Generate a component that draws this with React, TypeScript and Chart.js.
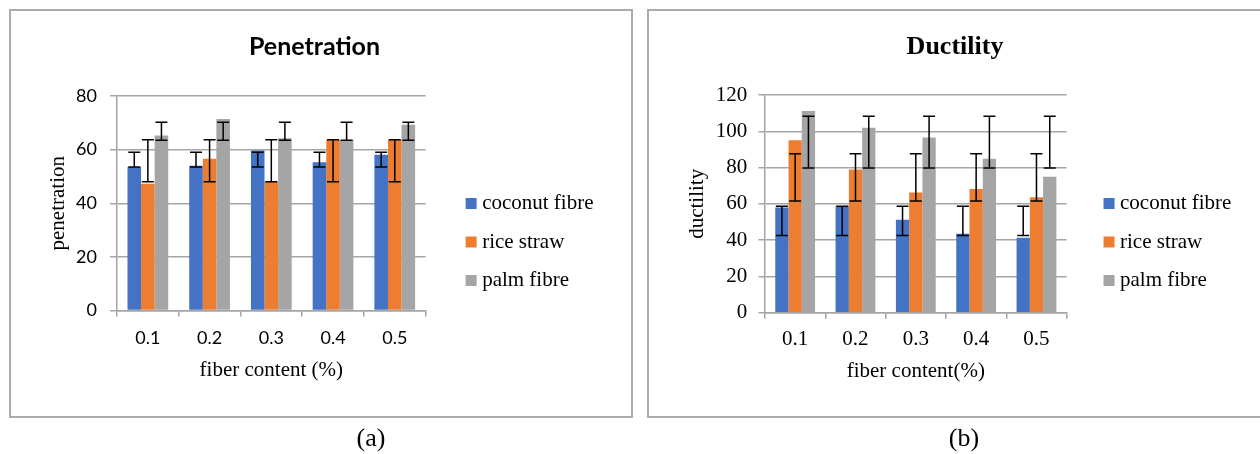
import React, { useEffect, useRef } from 'react';
import { Chart, registerables } from 'chart.js';

Chart.register(...registerables);

// ---------- data ----------
const categories = ['0.1', '0.2', '0.3', '0.4', '0.5'];
const seriesNames = ['coconut fibre', 'rice straw', 'palm fibre'];
const seriesColors = ['#4472C4', '#ED7D31', '#A5A5A5'];

// Penetration
const penCoconut = [53.5, 54.0, 59.7, 55.3, 58.1];
const penRice = [47.3, 56.6, 48.0, 63.6, 63.6];
const penPalm = [65.3, 71.4, 64.2, 63.6, 69.3];
const penCoconutLow = [53.5, 53.5, 53.5, 53.5, 53.5];
const penCoconutHigh = [59.0, 59.0, 59.0, 59.0, 59.0];
const penRiceLow = [48.0, 48.0, 48.0, 48.0, 48.0];
const penRiceHigh = [63.7, 63.7, 63.7, 63.7, 63.7];
const penPalmLow = [63.5, 63.5, 63.5, 63.5, 63.5];
const penPalmHigh = [70.2, 70.2, 70.2, 70.2, 70.2];
const penTicks = [0, 20, 40, 60, 80];

// Ductility
const ducCoconut = [58.0, 58.7, 51.2, 43.5, 41.3];
const ducRice = [95.1, 79.0, 66.2, 68.2, 63.7];
const ducPalm = [111.2, 101.9, 96.6, 84.9, 75.0];
const ducCoconutLow = [42.6, 42.6, 42.6, 42.6, 42.6];
const ducCoconutHigh = [58.7, 58.7, 58.7, 58.7, 58.7];
const ducRiceLow = [61.6, 61.6, 61.6, 61.6, 61.6];
const ducRiceHigh = [87.6, 87.6, 87.6, 87.6, 87.6];
const ducPalmLow = [79.8, 79.8, 79.8, 79.8, 79.8];
const ducPalmHigh = [108.3, 108.3, 108.3, 108.3, 108.3];
const ducTicks = [0, 20, 40, 60, 80, 100, 120];

// ---------- styling ----------
const GRID = '#a5a5a5';
const SERIF = '"Liberation Serif", "Times New Roman", serif';
const SANS = 'Lato, Carlito, Calibri, sans-serif';

const errorBarPlugin = {
  id: 'errorBars',
  afterDatasetsDraw(chart: any) {
    const ctx = chart.ctx;
    const yScale = chart.scales.y;
    ctx.save();
    ctx.strokeStyle = '#000';
    ctx.lineWidth = 1.5;
    chart.data.datasets.forEach((ds: any, i: number) => {
      if (!ds.errLow) return;
      const meta = chart.getDatasetMeta(i);
      meta.data.forEach((bar: any, j: number) => {
        const x = bar.x;
        const y1 = yScale.getPixelForValue(ds.errLow[j]);
        const y2 = yScale.getPixelForValue(ds.errHigh[j]);
        ctx.beginPath();
        ctx.moveTo(x, y1);
        ctx.lineTo(x, y2);
        ctx.moveTo(x - 6, y1);
        ctx.lineTo(x + 6, y1);
        ctx.moveTo(x - 6, y2);
        ctx.lineTo(x + 6, y2);
        ctx.stroke();
      });
    });
    ctx.restore();
  },
};

function buildConfig(p: any) {
  return {
    type: 'bar',
    data: {
      labels: categories,
      datasets: p.values.map((vals: number[], i: number) => ({
        label: seriesNames[i],
        data: vals,
        backgroundColor: seriesColors[i],
        borderWidth: 0,
        barPercentage: 1,
        categoryPercentage: 0.66,
        errLow: p.lows[i],
        errHigh: p.highs[i],
      })),
    },
    options: {
      responsive: false,
      animation: false,
      devicePixelRatio: 1,
      events: [],
      layout: { padding: { left: p.padLeft, right: p.padRight, top: 0, bottom: 0 } },
      plugins: {
        tooltip: { enabled: false },
        title: {
          display: true,
          text: p.title,
          color: '#000',
          font: p.titleFont,
          padding: p.titlePad,
        },
        legend: {
          position: 'right',
          align: 'center',
          maxWidth: 400,
          labels: {
            usePointStyle: true,
            pointStyle: 'rect',
            boxWidth: 1,
            boxHeight: 11,
            padding: 17.5,
            color: '#000',
            font: { family: SERIF, size: 21 },
          },
        },
      },
      scales: {
        x: {
          ticks: { color: '#000', font: p.tickFont, padding: p.xTickPad },
          grid: {
            drawOnChartArea: false,
            drawTicks: true,
            tickLength: 6,
            color: GRID,
            lineWidth: 1.5,
            offset: true,
          },
          border: { display: true, color: GRID, width: 1.5 },
          title: {
            display: true,
            text: p.xTitle,
            color: '#000',
            font: { family: SERIF, size: 21 },
            padding: { top: 0, bottom: p.xTitlePad },
          },
          afterFit: (s: any) => {
            s.height = p.xAxisH;
          },
        },
        y: {
          min: p.ticks[0],
          max: p.ticks[p.ticks.length - 1],
          ticks: {
            stepSize: p.ticks[1] - p.ticks[0],
            color: '#000',
            font: p.tickFont,
            padding: p.yTickPad,
          },
          grid: { color: GRID, lineWidth: 1.5, drawTicks: true, tickLength: p.yTickLen },
          border: { display: true, color: GRID, width: 1.5 },
          title: {
            display: true,
            text: p.yTitle,
            color: '#000',
            font: { family: SERIF, size: 21 },
            padding: { top: p.yTitlePad, bottom: 0 },
          },
          afterFit: (s: any) => {
            s.width = p.yAxisW;
          },
        },
        spacer: {
          type: 'linear',
          axis: 'y',
          position: 'right',
          display: true,
          grid: { display: false, drawTicks: false },
          border: { display: false },
          ticks: { display: false },
          afterFit: (s: any) => {
            s.width = p.spacerW;
          },
        },
      },
    },
    plugins: [errorBarPlugin],
  };
}

const leftSpec = {
  values: [penCoconut, penRice, penPalm],
  lows: [penCoconutLow, penRiceLow, penPalmLow],
  highs: [penCoconutHigh, penRiceHigh, penPalmHigh],
  ticks: penTicks,
  title: 'Penetration',
  titleFont: { family: SANS, size: 25, weight: 'bold' },
  titlePad: { top: 22, bottom: 34 },
  tickFont: { family: SANS, size: 18 },
  xTitle: 'fiber content (%)',
  yTitle: 'penetration',
  padLeft: 15.5,
  padRight: 26.5,
  yAxisW: 91.5,
  spacerW: 27.5,
  xAxisH: 163.5,
  xTickPad: 10.7,
  yTickPad: 13,
  yTickLen: 7,
  yTitlePad: 19.9,
  xTitlePad: 91.4,
};

const rightSpec = {
  values: [ducCoconut, ducRice, ducPalm],
  lows: [ducCoconutLow, ducRiceLow, ducPalmLow],
  highs: [ducCoconutHigh, ducRiceHigh, ducPalmHigh],
  ticks: ducTicks,
  title: 'Ductility',
  titleFont: { family: SERIF, size: 26, weight: 'bold' },
  titlePad: { top: 21.4, bottom: 32.4 },
  tickFont: { family: SERIF, size: 21 },
  xTitle: 'fiber content(%)',
  yTitle: 'ductility',
  padLeft: 20.6,
  padRight: 18.6,
  yAxisW: 96.4,
  spacerW: 24.4,
  xAxisH: 161.3,
  xTickPad: 8.0,
  yTickPad: 11.2,
  yTickLen: 6.5,
  yTitlePad: 15.8,
  xTitlePad: 89.7,
};

function ChartCanvas({ spec, width, height, style }: any) {
  const ref = useRef<HTMLCanvasElement | null>(null);
  useEffect(() => {
    if (!ref.current) return;
    const chart = new Chart(ref.current, buildConfig(spec) as any);
    let alive = true;
    const fonts = (document as any).fonts;
    if (fonts && fonts.load) {
      Promise.all([
        fonts.load('bold 25px Lato'),
        fonts.load('18px Lato'),
        fonts.load('21px "Liberation Serif"'),
        fonts.load('bold 26px "Liberation Serif"'),
      ])
        .then(() => {
          if (alive) chart.update();
        })
        .catch(() => {});
    }
    return () => {
      alive = false;
      chart.destroy();
    };
  }, [spec]);
  return (
    <canvas
      ref={ref}
      width={width}
      height={height}
      style={{ position: 'absolute', width, height, ...style }}
    />
  );
}

export default function App() {
  const boxBorder = '2px solid #ababab';
  return (
    <div
      style={{
        position: 'absolute',
        left: 0,
        top: 0,
        width: 1260,
        height: 454,
        overflow: 'hidden',
        background: '#fff',
      }}
    >
      <div
        style={{
          position: 'absolute',
          left: 9,
          top: 9,
          width: 620,
          height: 405,
          border: boxBorder,
        }}
      />
      <div
        style={{
          position: 'absolute',
          left: 647,
          top: 9,
          width: 640,
          height: 405,
          border: boxBorder,
        }}
      />
      <ChartCanvas spec={leftSpec} width={620} height={464} style={{ left: 10, top: 10 }} />
      <ChartCanvas spec={rightSpec} width={612} height={464} style={{ left: 648, top: 10 }} />
      <div
        style={{
          position: 'absolute',
          left: 321,
          top: 423,
          width: 100,
          textAlign: 'center',
          fontFamily: SERIF,
          fontSize: 26,
          lineHeight: '30px',
          color: '#000',
        }}
      >
        (a)
      </div>
      <div
        style={{
          position: 'absolute',
          left: 914,
          top: 423,
          width: 100,
          textAlign: 'center',
          fontFamily: SERIF,
          fontSize: 26,
          lineHeight: '30px',
          color: '#000',
        }}
      >
        (b)
      </div>
    </div>
  );
}
